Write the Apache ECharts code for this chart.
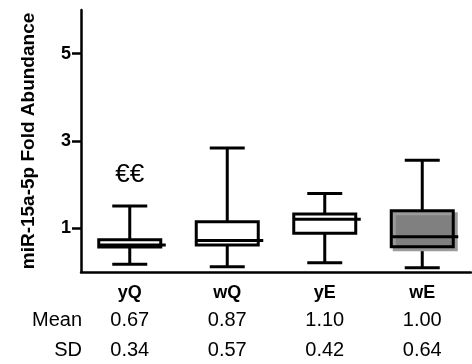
<!DOCTYPE html>
<html>
<head>
<meta charset="utf-8">
<script src="https://cdn.jsdelivr.net/npm/echarts@6/dist/echarts.min.js"></script>
<style>html,body{margin:0;padding:0;background:#fff}#c{width:472px;height:364px}</style>
</head>
<body>
<div id="c"></div>
<script>
const categories = ['yQ', 'wQ', 'yE', 'wE'];
const whiskerLow = [0.18, 0.12, 0.21, 0.10];
const q1 = [0.57, 0.62, 0.89, 0.58];
const median = [0.62, 0.72, 1.21, 0.81];
const q3 = [0.74, 1.15, 1.33, 1.40];
const whiskerHigh = [1.51, 2.84, 1.80, 2.56];
const boxFill = ['#ffffff', '#ffffff', '#ffffff', '#808080'];
const annotations = ['€€', '', '', ''];
const meanVals = ['0.67', '0.87', '1.10', '1.00'];
const sdVals = ['0.34', '0.57', '0.42', '0.64'];
const yTicks = [1, 3, 5];

const data = categories.map((c, i) => [i, whiskerLow[i], q1[i], median[i], q3[i], whiskerHigh[i]]);
const font = 'Liberation Sans, Arial, sans-serif';

const chart = echarts.init(document.getElementById('c'), null, {renderer: 'canvas'});

function extraAxis(vals, offset) {
  return {
    type: 'category', data: vals, position: 'bottom', offset: offset, gridIndex: 0,
    axisLine: {show: false}, axisTick: {show: false}, splitLine: {show: false},
    axisLabel: {margin: 0, fontFamily: font, fontSize: 20, color: '#000', interval: 0}
  };
}

chart.setOption({
  animation: false,
  backgroundColor: '#fff',
  grid: {left: 81, right: 1, top: 10, bottom: 92, containLabel: false},
  xAxis: [
    {
      type: 'category', data: categories,
      axisLine: {lineStyle: {color: '#000', width: 2.5}},
      axisTick: {alignWithLabel: true, length: 9, lineStyle: {color: '#000', width: 3}},
      axisLabel: {margin: 12, fontFamily: font, fontSize: 18, fontWeight: 'bold', color: '#000', interval: 0},
      splitLine: {show: false}
    },
    extraAxis(meanVals, 38),
    extraAxis(sdVals, 68)
  ],
  yAxis: {
    type: 'value', min: 0, max: 6,
    name: 'miR-15a-5p Fold Abundance', nameLocation: 'middle', nameRotate: 90, nameGap: 43,
    nameTextStyle: {fontFamily: font, fontSize: 19, fontWeight: 'bold', color: '#000'},
    axisLine: {show: true, lineStyle: {color: '#000', width: 2.5}},
    axisTick: {show: true, length: 9, customValues: yTicks, lineStyle: {color: '#000', width: 2.5}},
    axisLabel: {margin: 10, customValues: yTicks, fontFamily: font, fontSize: 18, fontWeight: 'bold', color: '#000'},
    splitLine: {show: false}
  },
  graphic: [
    {type: 'text', right: 472 - 82, top: 310, style: {text: 'Mean', font: '20px ' + font, fill: '#000', textAlign: 'right'}},
    {type: 'text', right: 472 - 82, top: 340, style: {text: 'SD', font: '20px ' + font, fill: '#000', textAlign: 'right'}}
  ],
  series: [{
    type: 'custom',
    clip: false,
    data: data,
    encode: {x: 0, y: [1, 2, 3, 4, 5]},
    renderItem: function (params, api) {
      const i = api.value(0);
      const pLo = api.coord([i, api.value(1)]);
      const pQ1 = api.coord([i, api.value(2)]);
      const pMed = api.coord([i, api.value(3)]);
      const pQ3 = api.coord([i, api.value(4)]);
      const pHi = api.coord([i, api.value(5)]);
      const x = pLo[0];
      const bw = 62, cw = 35, lw = 3;
      const ls = {stroke: '#000', lineWidth: lw};
      const children = [
        {type: 'line', shape: {x1: x, y1: pHi[1], x2: x, y2: pQ3[1]}, style: ls},
        {type: 'line', shape: {x1: x, y1: pQ1[1], x2: x, y2: pLo[1]}, style: ls},
        {type: 'line', shape: {x1: x - cw / 2, y1: pHi[1], x2: x + cw / 2, y2: pHi[1]}, style: ls},
        {type: 'line', shape: {x1: x - cw / 2, y1: pLo[1], x2: x + cw / 2, y2: pLo[1]}, style: ls}
      ];
      const fill = boxFill[i];
      const shaded = fill !== '#ffffff';
      children.push({
        type: 'rect',
        shape: {x: x - bw / 2, y: pQ3[1], width: bw, height: pQ1[1] - pQ3[1]},
        style: {fill: fill, stroke: '#000', lineWidth: lw,
          shadowColor: shaded ? '#9a9a9a' : 'rgba(0,0,0,0)', shadowOffsetX: 3, shadowOffsetY: 3, shadowBlur: 0}
      });
      children.push({type: 'line', shape: {x1: x - bw / 2, y1: pMed[1], x2: x + bw / 2 + 5, y2: pMed[1]}, style: ls});
      if (annotations[i]) {
        children.push({type: 'text', style: {text: annotations[i], x: x, y: pHi[1] - 31,
          textAlign: 'center', textVerticalAlign: 'middle', font: '26px ' + font, fill: '#000'}});
      }
      return {type: 'group', children: children};
    }
  }]
});
</script>
</body>
</html>
